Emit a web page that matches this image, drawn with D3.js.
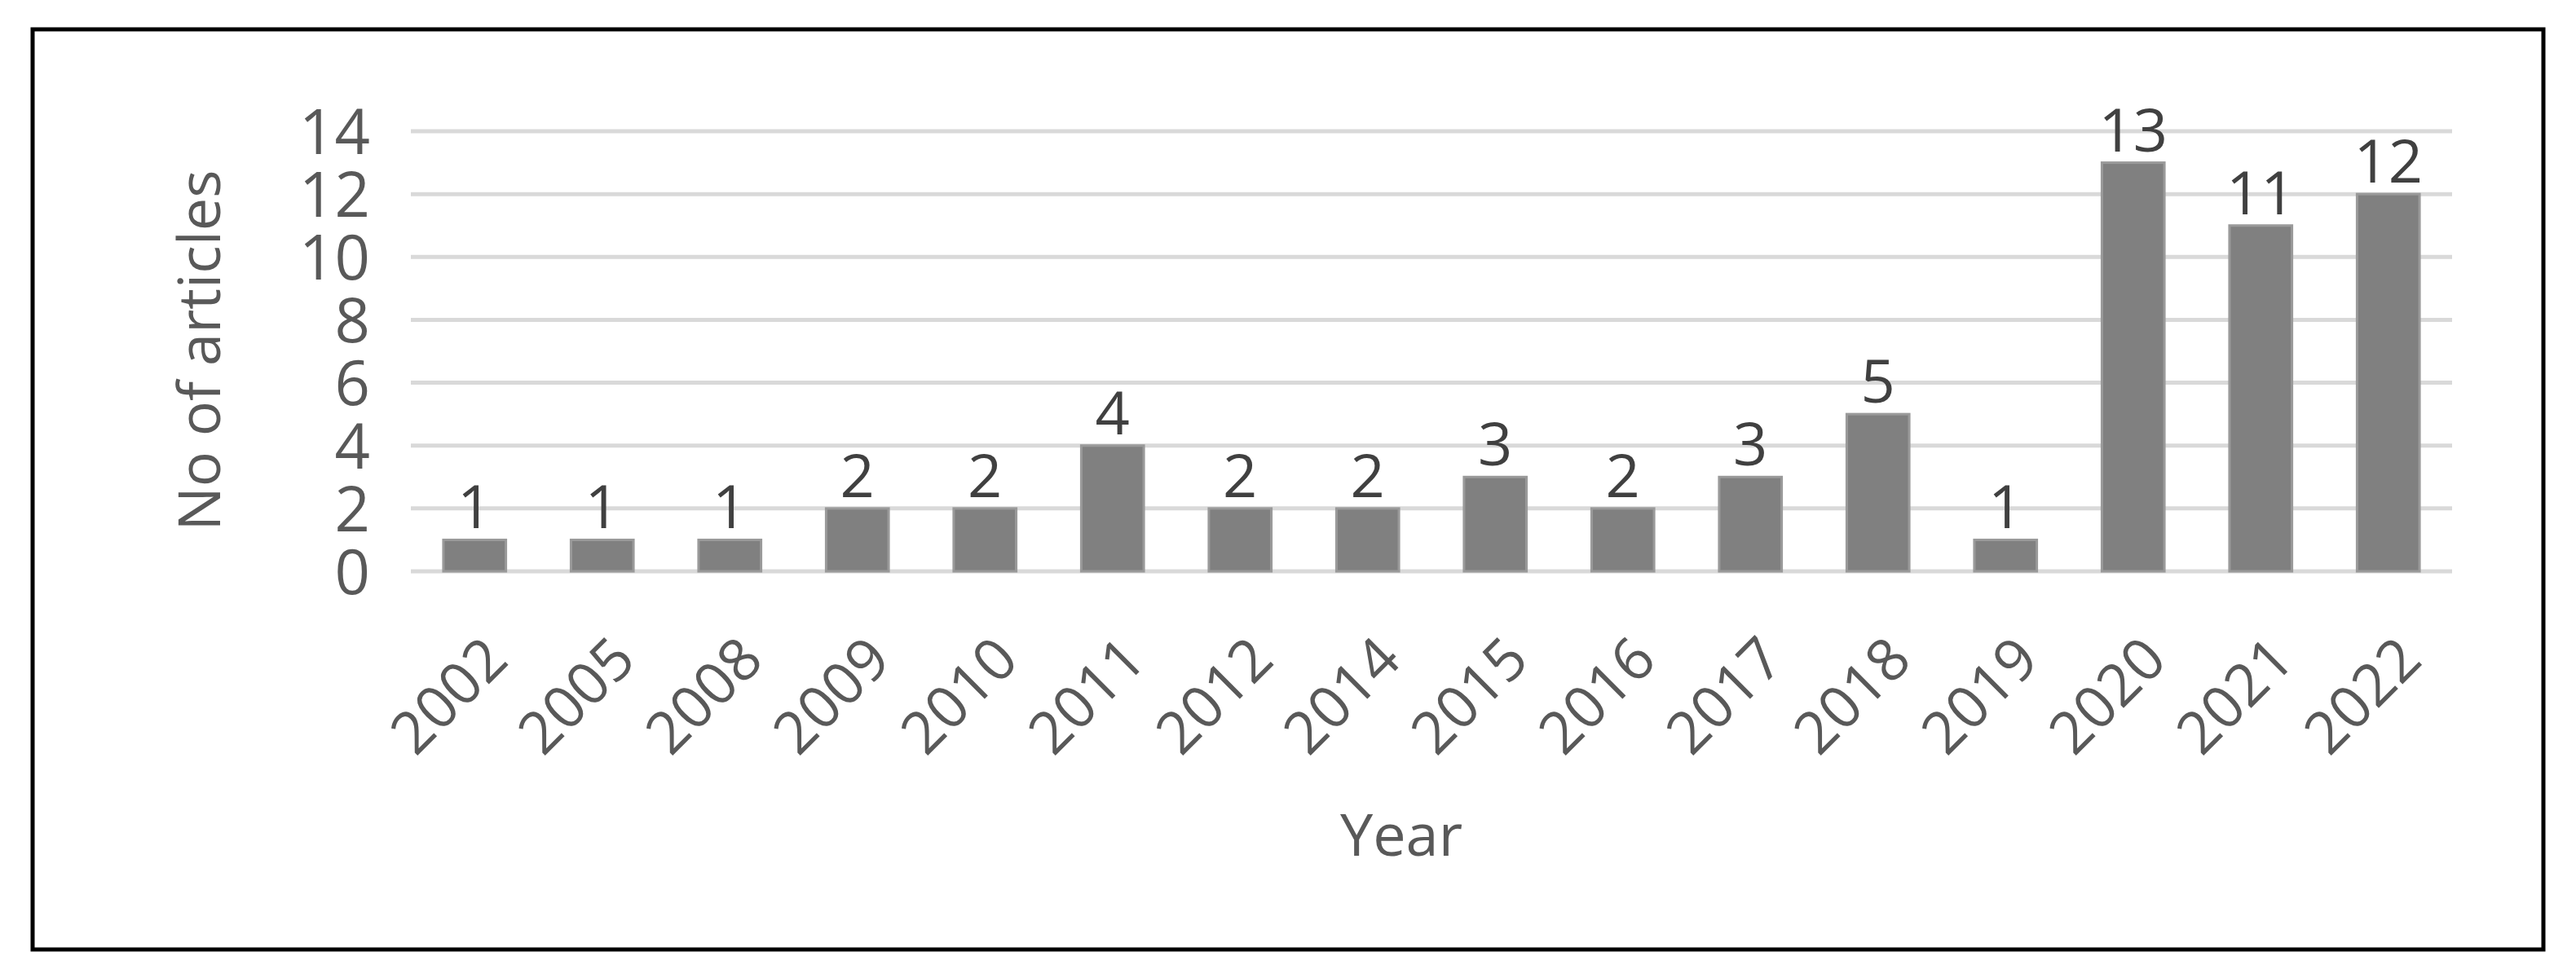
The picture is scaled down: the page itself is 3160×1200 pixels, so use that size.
<!DOCTYPE html>
<html><head><meta charset="utf-8">
<script src="https://cdn.jsdelivr.net/npm/d3@7"></script>
<style>body{margin:0;background:#fff}</style></head>
<body><svg id="c" width="3160" height="1200"></svg>
<script>
const years = ["2002","2005","2008","2009","2010","2011","2012","2014","2015","2016","2017","2018","2019","2020","2021","2022"];
const counts = [1,1,1,2,2,4,2,2,3,2,3,5,1,13,11,12];
const yTicks = [0,2,4,6,8,10,12,14];

const svg = d3.select("#c");
const font = "Open Sans, Liberation Sans, sans-serif";
const txt = "#595959";
svg.append("rect").attr("x",40).attr("y",36).attr("width",3080).attr("height",1129)
  .attr("fill","#fff").attr("stroke","#000").attr("stroke-width",5);

const L=504,R=3008,T=161,B=701;
const x = d3.scaleBand().domain(years).range([L,R]).paddingInner(0.51).paddingOuter(0.255);
const y = d3.scaleLinear().domain([0,14]).range([B,T]);

const g = svg.append("g");
g.selectAll("line.grid").data(yTicks).join("line")
  .attr("x1",L).attr("x2",R).attr("y1",d=>y(d)).attr("y2",d=>y(d))
  .attr("stroke","#d9d9d9").attr("stroke-width",5);

const yAxis = g.append("g").attr("transform",`translate(${L},0)`)
  .call(d3.axisLeft(y).tickValues(yTicks).tickSize(0).tickPadding(50));
yAxis.select(".domain").remove();
yAxis.selectAll("text").attr("font-family",font).attr("font-size",76).attr("fill",txt).attr("dy","0.36em");

g.selectAll("rect.bar").data(counts).join("rect")
  .attr("x",(d,i)=>x(years[i])).attr("width",x.bandwidth())
  .attr("y",d=>y(d)).attr("height",d=>B-y(d))
  .attr("fill","#808080").attr("stroke","#9a9a9a").attr("stroke-width",3);

g.selectAll("text.lbl").data(counts).join("text")
  .attr("x",(d,i)=>x(years[i])+x.bandwidth()/2).attr("y",d=>y(d)-14)
  .attr("text-anchor","middle").attr("font-family",font).attr("font-size",74).attr("fill","#404040")
  .text(d=>d);

const xAxis = g.append("g").attr("transform",`translate(0,${B})`)
  .call(d3.axisBottom(x).tickSize(0).tickPadding(0));
xAxis.select(".domain").remove();
xAxis.selectAll("text").attr("font-family",font).attr("font-size",72).attr("fill",txt)
  .attr("text-anchor","end").attr("dy",0)
  .attr("transform","translate(44,112) rotate(-45)");

svg.append("text").attr("x",1719).attr("y",1050).attr("text-anchor","middle")
  .attr("font-family",font).attr("font-size",72).attr("fill",txt).text("Year");
svg.append("text").attr("transform","translate(270,430) rotate(-90)").attr("text-anchor","middle")
  .attr("font-family",font).attr("font-size",72).attr("fill",txt).text("No of articles");
</script></body></html>
